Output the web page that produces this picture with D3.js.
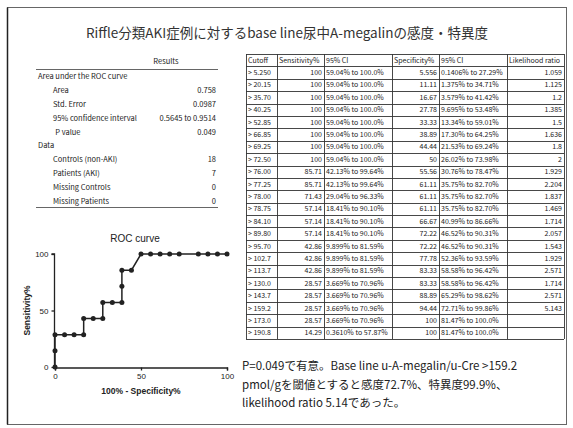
<!DOCTYPE html>
<html>
<head>
<meta charset="utf-8">
<script src="https://cdn.jsdelivr.net/npm/d3@7"></script>
<style>
  html, body { margin: 0; padding: 0; background: #fff; }
  svg { display: block; }
</style>
</head>
<body>
<script>
// ---- data ----
const cutoffs = ["> 5.250", "> 20.15", "> 35.70", "> 40.25", "> 52.85", "> 66.85", "> 69.25", "> 72.50",
  "> 76.00", "> 77.25", "> 78.00", "> 78.75", "> 84.10", "> 89.80", "> 95.70", "> 102.7", "> 113.7",
  "> 130.0", "> 143.7", "> 159.2", "> 173.0", "> 190.8"];
const sensitivity = [100, 100, 100, 100, 100, 100, 100, 100, 85.71, 85.71, 71.43, 57.14, 57.14, 57.14,
  42.86, 42.86, 42.86, 28.57, 28.57, 28.57, 28.57, 14.29];
const sensCI = ["59.04% to 100.0%", "59.04% to 100.0%", "59.04% to 100.0%", "59.04% to 100.0%",
  "59.04% to 100.0%", "59.04% to 100.0%", "59.04% to 100.0%", "59.04% to 100.0%",
  "42.13% to 99.64%", "42.13% to 99.64%", "29.04% to 96.33%", "18.41% to 90.10%",
  "18.41% to 90.10%", "18.41% to 90.10%", "9.899% to 81.59%", "9.899% to 81.59%",
  "9.899% to 81.59%", "3.669% to 70.96%", "3.669% to 70.96%", "3.669% to 70.96%",
  "3.669% to 70.96%", "0.3610% to 57.87%"];
const specificity = [5.556, 11.11, 16.67, 27.78, 33.33, 38.89, 44.44, 50, 55.56, 61.11, 61.11, 61.11,
  66.67, 72.22, 72.22, 77.78, 83.33, 83.33, 88.89, 94.44, 100, 100];
const specCI = ["0.1406% to 27.29%", "1.375% to 34.71%", "3.579% to 41.42%", "9.695% to 53.48%",
  "13.34% to 59.01%", "17.30% to 64.25%", "21.53% to 69.24%", "26.02% to 73.98%",
  "30.76% to 78.47%", "35.75% to 82.70%", "35.75% to 82.70%", "35.75% to 82.70%",
  "40.99% to 86.66%", "46.52% to 90.31%", "46.52% to 90.31%", "52.36% to 93.59%",
  "58.58% to 96.42%", "58.58% to 96.42%", "65.29% to 98.62%", "72.71% to 99.86%",
  "81.47% to 100.0%", "81.47% to 100.0%"];
const likelihood = ["1.059", "1.125", "1.2", "1.385", "1.5", "1.636", "1.8", "2", "1.929", "2.204",
  "1.837", "1.469", "1.714", "2.057", "1.543", "1.929", "2.571", "1.714", "2.571", "5.143", "", ""];
const tableHeaders = ["Cutoff", "Sensitivity%", "95% CI", "Specificity%", "95% CI", "Likelihood ratio"];

const resultLabels = ["Area under the ROC curve", "Area", "Std. Error", "95% confidence interval", "P value",
  "Data", "Controls (non-AKI)", "Patients (AKI)", "Missing Controls", "Missing Patients"];
const resultValues = ["", "0.758", "0.0987", "0.5645 to 0.9514", "0.049", "", "18", "7", "0", "0"];
const resultIndent = [0, 1, 1, 1, 1.15, 0, 1, 1, 1, 1];

const axisTicks = [0, 50, 100];

const titleText = "Riffle分類AKI症例に対するbase line尿中A-megalinの感度・特異度";
const noteLines = ["P=0.049で有意。Base line u-A-megalin/u-Cre >159.2",
  "pmol/gを閾値とすると感度72.7%、特異度99.9%、",
  "likelihood ratio 5.14であった。"];

// ---- page ----
const W = 573, H = 428;
const svg = d3.select("body").append("svg").attr("width", W).attr("height", H);
const jp = "'Noto Sans CJK JP', 'Noto Sans', sans-serif";
const sans = "'Liberation Sans', Arial, sans-serif";

svg.append("rect").attr("x", 7.5).attr("y", 7.5).attr("width", 559).attr("height", 417)
  .attr("fill", "none").attr("stroke", "#666").attr("stroke-width", 1);
svg.append("line").attr("x1", 7.5).attr("x2", 7.5).attr("y1", 7.5).attr("y2", 424.5)
  .attr("stroke", "#222").attr("stroke-width", 1.5);

svg.append("text").attr("x", 287).attr("y", 38).attr("text-anchor", "middle")
  .attr("font-family", jp).attr("font-size", 13.5).attr("fill", "#333").text(titleText);

// ---- results panel ----
const res = svg.append("g").attr("font-family", jp).attr("font-size", 7.5).attr("fill", "#222");
res.append("text").attr("x", 166).attr("y", 64).attr("text-anchor", "middle").text("Results");
res.append("line").attr("x1", 36).attr("x2", 218).attr("y1", 69.5).attr("y2", 69.5)
  .attr("stroke", "#666").attr("stroke-width", 1.2);
const resY = d3.scalePoint().domain(d3.range(resultLabels.length)).range([76, 201]);
resultLabels.forEach((lab, i) => {
  res.append("text").attr("x", 38 + 15 * resultIndent[i]).attr("y", resY(i) + 3).text(lab);
  if (resultValues[i]) res.append("text").attr("x", 216).attr("y", resY(i) + 3)
    .attr("text-anchor", "end").text(resultValues[i]);
});
res.append("line").attr("x1", 36).attr("x2", 218).attr("y1", 207.5).attr("y2", 207.5)
  .attr("stroke", "#666").attr("stroke-width", 1.2);

// ---- table ----
const colX = [246, 277, 324, 392, 439, 507, 564];
const nRows = cutoffs.length + 1;
const rowY = d3.scaleBand().domain(d3.range(nRows)).range([54, 339]);
const tbl = svg.append("g").attr("font-family", jp).attr("font-size", 7).attr("fill", "#222");
const align = ["start", "end", "start", "end", "start", "end"];
const cellX = (c) => align[c] === "start" ? colX[c] + 2 : colX[c + 1] - 2;
for (let r = 0; r <= nRows; r++) {
  const yy = r < nRows ? rowY(r) : rowY(nRows - 1) + rowY.bandwidth();
  tbl.append("line").attr("x1", colX[0]).attr("x2", colX[6])
    .attr("y1", Math.round(yy) + 0.5).attr("y2", Math.round(yy) + 0.5)
    .attr("stroke", "#333").attr("stroke-width", 0.9);
}
colX.forEach(cx => tbl.append("line").attr("x1", cx + 0.5).attr("x2", cx + 0.5)
  .attr("y1", rowY(0)).attr("y2", rowY(nRows - 1) + rowY.bandwidth())
  .attr("stroke", "#333").attr("stroke-width", 0.9));
tableHeaders.forEach((h, c) => tbl.append("text").attr("x", colX[c] + 2)
  .attr("y", rowY(0) + rowY.bandwidth() / 2 + 2.5).text(h));
const rows = cutoffs.map((c, i) => [c, String(sensitivity[i]), sensCI[i], String(specificity[i]), specCI[i], likelihood[i]]);
rows.forEach((row, i) => row.forEach((v, c) => {
  tbl.append("text").attr("x", cellX(c)).attr("y", rowY(i + 1) + rowY.bandwidth() / 2 + 2.5)
    .attr("text-anchor", align[c]).text(v);
}));

// ---- ROC curve ----
const x = d3.scaleLinear().domain([0, 100]).range([55, 227]);
const y = d3.scaleLinear().domain([0, 100]).range([367, 254]);
const pts = [[0, 0]].concat(
  sensitivity.map((s, i) => [100 - specificity[i], s]).reverse(),
  [[100, 100]]);
const roc = svg.append("g").attr("font-family", sans).attr("fill", "#222");
roc.append("text").attr("x", 135).attr("y", 242).attr("text-anchor", "middle")
  .attr("font-size", 10).text("ROC curve");
const ax = roc.append("g").attr("transform", `translate(0,${y(0) + 0.5})`)
  .call(d3.axisBottom(x).tickValues(axisTicks).tickSize(3).tickFormat(d3.format("d")));
const ay = roc.append("g").attr("transform", `translate(${x(0) - 0.5},0)`)
  .call(d3.axisLeft(y).tickValues(axisTicks).tickSize(3).tickFormat(d3.format("d")));
[ax, ay].forEach(g => {
  g.selectAll("path,line").attr("stroke", "#222").attr("stroke-width", 1.3);
  g.selectAll("text").attr("font-family", sans).attr("font-size", 8).attr("fill", "#222");
});
ay.select(".domain").attr("d", `M-3,${y(100)}H0V${y(0)}`);
roc.append("path").datum(pts)
  .attr("d", d3.line().x(d => x(d[0])).y(d => y(d[1])))
  .attr("fill", "none").attr("stroke", "#222").attr("stroke-width", 1.5);
roc.selectAll("circle").data(pts).join("circle")
  .attr("cx", d => x(d[0])).attr("cy", d => y(d[1])).attr("r", 2.5).attr("fill", "#222");
roc.append("text").attr("transform", `translate(30,${y(50)}) rotate(-90)`)
  .attr("text-anchor", "middle").attr("font-size", 8.5).attr("font-weight", "bold").text("Sensitivity%");
roc.append("text").attr("x", x(50)).attr("y", 394).attr("text-anchor", "middle")
  .attr("font-size", 8.5).attr("font-weight", "bold").text("100% - Specificity%");

// ---- note ----
const note = svg.append("g").attr("font-family", jp).attr("font-size", 11.5).attr("fill", "#222");
noteLines.forEach((t, i) => note.append("text").attr("x", 242).attr("y", 370 + i * 18.5).text(t));
</script>
</body>
</html>
